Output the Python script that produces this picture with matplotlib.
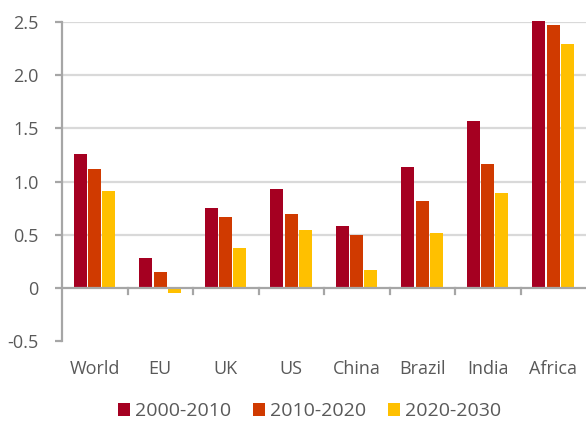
import matplotlib
matplotlib.use("Agg")
import matplotlib.pyplot as plt
import numpy as np

categories = ["World", "EU", "UK", "US", "China", "Brazil", "India", "Africa"]
series_names = ["2000-2010", "2010-2020", "2020-2030"]
s2000_2010 = [1.26, 0.28, 0.75, 0.93, 0.58, 1.14, 1.57, 2.51]
s2010_2020 = [1.12, 0.15, 0.67, 0.69, 0.50, 0.82, 1.16, 2.47]
s2020_2030 = [0.91, -0.05, 0.37, 0.54, 0.17, 0.52, 0.89, 2.29]
colors = ["#A50021", "#D03A00", "#FFC000"]
yticks = [-0.5, 0, 0.5, 1.0, 1.5, 2.0, 2.5]
ytick_labels = ["-0.5", "0", "0.5", "1.0", "1.5", "2.0", "2.5"]

plt.rcParams["font.family"] = ["Open Sans", "DejaVu Sans"]
text_color = "#595959"

fig = plt.figure(figsize=(5.86, 4.23), dpi=100)
ax = fig.add_axes([62 / 586, 1 - 341 / 423, 1 - 62 / 586, (341 - 22) / 423])

x = np.arange(len(categories))
offsets = [-0.22, 0.0, 0.215]
width = 0.2
for vals, off, col, name in zip([s2000_2010, s2010_2020, s2020_2030], offsets, colors, series_names):
    bars = ax.bar(x + off, vals, width, color=col, label=name, zorder=3)
    for b in bars:
        b.set_clip_on(False)

ax.set_xlim(-0.5, len(categories) - 0.5)
ax.set_ylim(-0.5, 2.5)
ax.set_yticks(yticks)
ax.set_yticklabels(ytick_labels)

for y in yticks[2:]:
    ax.axhline(y, color="#D9D9D9", lw=1.6, zorder=1)
ax.axhline(0, color="#A6A6A6", lw=1.6, zorder=4)

# group separator ticks on the zero line
for b in np.arange(0.5, len(categories) - 0.5, 1.0):
    ax.plot([b, b], [0, -0.06], color="#A6A6A6", lw=1.6, zorder=4, clip_on=False)

for s in ["top", "right", "bottom"]:
    ax.spines[s].set_visible(False)
ax.spines["left"].set_color("#A6A6A6")
ax.spines["left"].set_linewidth(1.6)

ax.tick_params(axis="y", length=5, width=1.6, color="#A6A6A6", labelsize=13,
               labelcolor=text_color, pad=12)
ax.set_xticks(x)
ax.set_xticklabels(categories)
ax.tick_params(axis="x", length=0, labelsize=13, labelcolor=text_color, pad=14)

leg = fig.legend(loc="center", bbox_to_anchor=(0.528, 1 - 411 / 423), ncol=3, frameon=False,
                 fontsize=14, handlelength=0.65, handleheight=0.65, handletextpad=0.25,
                 columnspacing=1.1)
for t in leg.get_texts():
    t.set_color(text_color)

fig.savefig("out.png", dpi=100)
